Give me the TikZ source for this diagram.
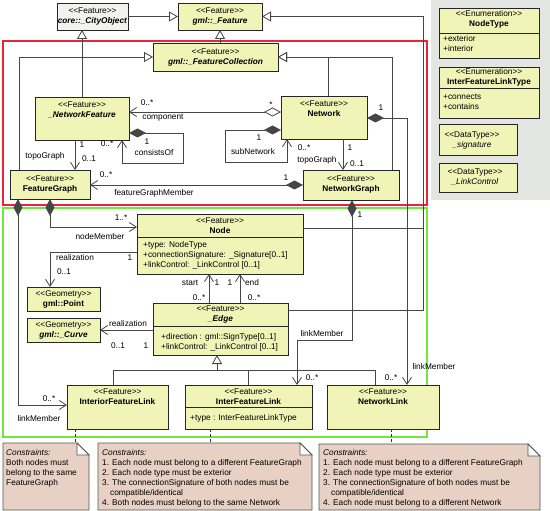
\documentclass[tikz,border=0pt]{standalone}
\usepackage{fontspec}
\setmainfont{Liberation Sans}
\usetikzlibrary{arrows.meta}
\definecolor{clsfill}{RGB}{240,244,182}
\definecolor{cityfill}{RGB}{242,243,240}
\definecolor{panelfill}{RGB}{226,229,226}
\definecolor{notefill}{RGB}{232,208,196}
\definecolor{linec}{RGB}{70,70,70}
\definecolor{redframe}{RGB}{232,38,52}
\definecolor{greenframe}{RGB}{112,232,64}
\definecolor{noteline}{RGB}{80,90,80}
\newcommand\ubox[6][]{\node[cls,#1,minimum width={(#5-#3)*1pt},minimum height={(#6-#4)*1pt}] (#2) at ({(#3+#5)/2},{(#4+#6)/2}) {};}
\newcommand\tl[4][]{\node[txt,#1] (#2) at (#3) {#4};}
\newcommand\st[1]{<{}<#1>{}>}
\newcommand\notepath[1]{%
\filldraw[notebox] (#1.north west) -- ([xshift=-12pt]#1.north east) -- ([yshift=-12pt]#1.north east) -- (#1.south east) -- (#1.south west) -- cycle;
\filldraw[notebox,fill=white] ([xshift=-12pt]#1.north east) -- ([xshift=-12pt,yshift=-12pt]#1.north east) -- ([yshift=-12pt]#1.north east) -- cycle;}
\begin{document}
\begin{tikzpicture}[x=1pt,y=-1pt,
 cls/.style={draw=black!85,fill=clsfill,line width=0.7pt,inner sep=0pt,outer sep=0pt,rectangle},
 txt/.style={font=\fontsize{8.3}{10}\selectfont,inner sep=0pt,anchor=base},
 conn/.style={draw=linec,line width=0.8pt},
 gen/.style={conn,-{Triangle[length=9pt,width=10pt,fill=white]}},
 nav/.style={conn,-{Straight Barb[length=7pt,width=9pt]}},
 compnav/.style={conn,{Diamond[length=17pt,width=9pt]}-{Straight Barb[length=7pt,width=9pt]}},
 aggnav/.style={conn,{Diamond[length=17pt,width=9pt,fill=white]}-{Straight Barb[length=7pt,width=9pt]}},
 sepl/.style={draw=black!85,line width=0.7pt},
 dashl/.style={draw=black!80,line width=0.7pt,dash pattern=on 3pt off 2pt},
 notebox/.style={draw=noteline,fill=notefill,line width=0.8pt},
]
\useasboundingbox (0,0) rectangle (550,511);
\fill[white] (0,0) rectangle (550,511);
\fill[panelfill] (431,0) rectangle (550,200);
\draw[redframe,line width=1.5pt] (3,41) rectangle (427,205);
\draw[greenframe,line width=2pt] (3,208) rectangle (427,437);

% boxes
\ubox[fill=cityfill]{City}{57}{3}{128}{30}
\ubox{Feature}{178}{3}{262}{30}
\ubox{FeatColl}{153}{43}{278}{71}
\ubox{NetFeat}{35}{97}{129}{140}
\ubox{Network}{281}{96}{367}{139}
\ubox{FeatGraph}{10}{170}{90}{199}
\ubox{NetGraph}{303}{170}{399}{200}
\ubox{Node}{137}{214}{303}{274}
\ubox{Point}{27}{287}{100}{311}
\ubox{Curve}{27}{318}{100}{342}
\ubox{Edge}{153}{303}{288}{355}
\ubox{IntFL}{67}{385}{168}{429}
\ubox{InterFL}{185}{385}{312}{429}
\ubox{NetLink}{327}{385}{439}{429}
\ubox{NodeType}{439}{8}{539}{58}
\ubox{IFLType}{439}{67}{539}{118}
\ubox{Sig}{439}{124}{517}{155}
\ubox{LC}{439}{163}{517}{192}

% separators
\draw[sepl] (Node.west |- 0,237) -- (Node.east |- 0,237);
\draw[sepl] (Edge.west |- 0,326) -- (Edge.east |- 0,326);
\draw[sepl] (InterFL.west |- 0,407) -- (InterFL.east |- 0,407);
\draw[sepl] (NodeType.west |- 0,33) -- (NodeType.east |- 0,33);
\draw[sepl] (IFLType.west |- 0,88) -- (IFLType.east |- 0,88);

% box texts
\tl{CityS}{92.5,13.5}{\st{Feature}}
\tl{CityN}{92.5,23.5}{\textbf{\textit{core::\_CityObject}}}
\tl{FeatS}{220,13.5}{\st{Feature}}
\tl{FeatN}{220,23.5}{\textbf{\textit{gml::\_Feature}}}
\tl{FCS}{215.5,54.5}{\st{Feature}}
\tl{FCN}{215.5,64.5}{\textbf{\textit{gml::\_FeatureCollection}}}
\tl{NFS}{82,107.5}{\st{Feature}}
\tl{NFN}{82,117.5}{\textbf{\textit{\_NetworkFeature}}}
\tl{NwS}{324,106.5}{\st{Feature}}
\tl{NwN}{324,116.5}{\textbf{Network}}
\tl{FGS}{50,181.5}{\st{Feature}}
\tl{FGN}{50,191.5}{\textbf{FeatureGraph}}
\tl{NGS}{351,181.5}{\st{Feature}}
\tl{NGN}{351,191.5}{\textbf{NetworkGraph}}
\tl{NdS}{220,223.5}{\st{Feature}}
\tl{NdN}{220,233.5}{\textbf{Node}}
\tl[anchor=base west]{NdA1}{143,247.5}{+type: NodeType}
\tl[anchor=base west]{NdA2}{143,257.5}{+connectionSignature: \_Signature[0..1]}
\tl[anchor=base west]{NdA3}{143,267.5}{+linkControl: \_LinkControl [0..1]}
\tl{PtS}{63.5,296}{\st{Geometry}}
\tl{PtN}{63.5,306}{\textbf{gml::Point}}
\tl{CvS}{63.5,327}{\st{Geometry}}
\tl{CvN}{63.5,337}{\textbf{\textit{gml::\_Curve}}}
\tl{EdS}{220.5,311.5}{\st{Feature}}
\tl{EdN}{220.5,321.5}{\textbf{\textit{\_Edge}}}
\tl[anchor=base west]{EdA1}{161,339.5}{+direction : gml::SignType[0..1]}
\tl[anchor=base west]{EdA2}{161,349.5}{+linkControl: \_LinkControl [0..1]}
\tl{IFS}{117.5,394.5}{\st{Feature}}
\tl{IFN}{117.5,404.5}{\textbf{InteriorFeatureLink}}
\tl{XFS}{248.5,394.5}{\st{Feature}}
\tl{XFN}{248.5,404.5}{\textbf{InterFeatureLink}}
\tl[anchor=base west]{XFA}{190,420.5}{+type : InterFeatureLinkType}
\tl{NLS}{383,394.5}{\st{Feature}}
\tl{NLN}{383,404.5}{\textbf{NetworkLink}}
\tl{NTS}{489,16.5}{\st{Enumeration}}
\tl{NTN}{489,26.5}{\textbf{NodeType}}
\tl[anchor=base west]{NTA1}{443,41.5}{+exterior}
\tl[anchor=base west]{NTA2}{443,51.5}{+interior}
\tl{ITS}{489,74.5}{\st{Enumeration}}
\tl{ITN}{489,84.5}{\textbf{InterFeatureLinkType}}
\tl[anchor=base west]{ITA1}{443,99.5}{+connects}
\tl[anchor=base west]{ITA2}{443,109.5}{+contains}
\tl{SgS}{472,137.5}{\st{DataType}}
\tl{SgN}{472,147.5}{\textit{\_signature}}
\tl{LCS}{475,174.5}{\st{DataType}}
\tl{LCN}{475,184.5}{\textit{\_LinkControl}}

% generalizations
\draw[gen] (City.east) -- (Feature.west);
\draw[conn] (Node.east |- 0,228) -- (423,228);
\draw[gen] (Edge.east |- 0,310) -| (423,16.5) -- (Feature.east);
\draw[gen] (FeatColl.north -| Feature.south) -- (Feature.south);
\draw[gen] (NetFeat.north) -- (NetFeat.north |- City.south);
\draw[gen] (FeatGraph.north -| 19,0) |- (FeatColl.west);
\draw[gen] (Network.north -| 328,0) |- (FeatColl.east);
\draw[gen] (NetGraph.north -| 392,0) |- (FeatColl.east);
\coordinate (gj) at (217,370);
\draw[conn] (IntFL.north -| 113,0) |- (gj);
\draw[conn] (InterFL.north -| 248,0) |- (gj);
\draw[conn] (NetLink.north -| 375,0) |- (gj);
\draw[gen] (gj) -- (Edge.south -| gj);

% associations
\draw[aggnav] (Network.west |- 0,112) -- (NetFeat.east |- 0,112);
\draw[compnav] (NetFeat.east |- 0,133) -| (183,163) -| (NetFeat.south -| 122,0);
\draw[compnav] (Network.west |- 0,130) -| (225,162) -| (Network.south -| 287,0);
\draw[nav] (NetFeat.south -| 75,0) -- (FeatGraph.north -| 75,0);
\draw[nav] (Network.south -| 343,0) -- (NetGraph.north -| 343,0);
\draw[compnav] (NetGraph.west) -- (NetGraph.west -| FeatGraph.east);
\draw[compnav] (FeatGraph.south -| 50,0) |- (Node.west |- 0,227);
\draw[compnav] (FeatGraph.south -| 18,0) |- (IntFL.west |- 0,405);
\draw[compnav] (NetGraph.south -| 352,0) |- (297,340) -- (InterFL.north -| 297,0);
\draw[compnav] (Network.east |- 0,118) -| (NetLink.north -| 407,0);
\draw[nav] (Node.west |- 0,252) -| (Point.north -| 50,0);
\draw[nav] (Edge.west |- 0,330) -- (Curve.east |- 0,330);
\draw[nav] (Edge.north -| 209,0) -- (Node.south -| 209,0);
\draw[nav] (Edge.north -| 240,0) -- (Node.south -| 240,0);

% labels
\tl{lc1}{147,106}{0..*}
\tl{lc2}{271,108}{*}
\tl{lc3}{163,120}{component}
\tl{lco1}{147,145}{1}
\tl{lco2}{107,147}{0..*}
\tl{lco3}{154,156}{consistsOf}
\tl{lt1}{82,148}{1}
\tl{lt2}{45,159}{topoGraph}
\tl{lt3}{89,162}{0..1}
\tl{lf1}{106,178}{0..*}
\tl{lf2}{154,196}{featureGraphMember}
\tl{lf3}{286,181}{1}
\tl{ls1}{259,141}{1}
\tl{ls2}{253,155}{subNetwork}
\tl{ls3}{304,150}{0..*}
\tl{ln1}{350,150}{1}
\tl{ln2}{317,163}{topoGraph}
\tl{ln3}{357,167}{0..1}
\tl{lk1}{381,111}{1}
\tl{lg1}{360,218}{1}
\tl{lm1}{121,220}{1..*}
\tl{lm2}{100,240}{nodeMember}
\tl{lr1}{75,261}{realization}
\tl{lr2}{130,261}{1}
\tl{lr3}{64,274}{0..1}
\tl{lq1}{128,326}{realization}
\tl{lq2}{118,348}{0..1}
\tl{lq3}{146,348}{1}
\tl{le1}{190,285}{start}
\tl{le2}{217,285}{1}
\tl{le3}{199,300}{0..*}
\tl{le4}{230,285}{1}
\tl{le5}{252,285}{end}
\tl{le6}{254,300}{0..*}
\tl{lk2}{322,336}{linkMember}
\tl{lk3}{312,380}{0..*}
\tl{lk4}{391,380}{0..*}
\tl{lk5}{434,369}{linkMember}
\tl{li1}{49,401}{0..*}
\tl{li2}{39,421}{linkMember}

% notes
\ubox[draw=none,fill=none]{note1}{3}{443}{89}{510}
\ubox[draw=none,fill=none]{note2}{98}{443}{312}{510}
\ubox[draw=none,fill=none]{note3}{319}{444}{540}{510}
\notepath{note1}
\notepath{note2}
\notepath{note3}
\draw[dashl] (IntFL.south -| 75,0) -- (note1.north -| 75,0);
\draw[dashl] (InterFL.south -| 210,0) -- (note2.north -| 210,0);
\draw[dashl] (NetLink.south -| 391,0) -- (note3.north -| 391,0);
\tl[anchor=base west]{n1a}{6,455.5}{\textit{Constraints:}}
\tl[anchor=base west]{n1b}{6,465.5}{Both nodes must}
\tl[anchor=base west]{n1c}{6,475.5}{belong to the same}
\tl[anchor=base west]{n1d}{6,485.5}{FeatureGraph}
\tl[anchor=base west]{n2a}{102,455.5}{\textit{Constraints:}}
\tl[anchor=base west]{n2b}{102,465.5}{1. Each node must belong to a different FeatureGraph}
\tl[anchor=base west]{n2c}{102,475.5}{2. Each node type must be exterior}
\tl[anchor=base west]{n2d}{102,485.5}{3. The connectionSignature of both nodes must be}
\tl[anchor=base west]{n2e}{110,495.5}{compatible/identical}
\tl[anchor=base west]{n2f}{102,505.5}{4. Both nodes must belong to the same Network}
\tl[anchor=base west]{n3a}{323,455.5}{\textit{Constraints:}}
\tl[anchor=base west]{n3b}{323,465.5}{1. Each node must belong to a different FeatureGraph}
\tl[anchor=base west]{n3c}{323,475.5}{2. Each node type must be exterior}
\tl[anchor=base west]{n3d}{323,485.5}{3. The connectionSignature of both nodes must be}
\tl[anchor=base west]{n3e}{331,495.5}{compatible/identical}
\tl[anchor=base west]{n3f}{323,505.5}{4. Each node must belong to a different Network}
\end{tikzpicture}
\end{document}
